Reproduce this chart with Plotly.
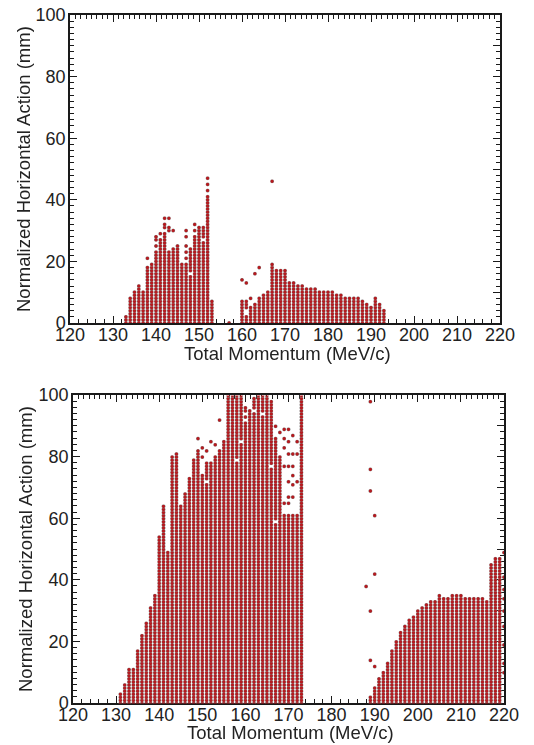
import numpy as np
import plotly.graph_objects as go

# ---------------- data ----------------
# Top panel: column momentum (MeV/c) and height of the filled column (mm)
top_p = [133, 134, 135, 136, 137, 138, 139, 140, 141, 142, 143, 144, 145, 146, 147, 148, 149, 150, 151, 152, 153,
         160, 161, 162, 163, 164, 165, 166, 167, 168, 169, 170, 171, 172, 173, 174, 175, 176, 177, 178, 179, 180,
         181, 182, 183, 184, 185, 186, 187, 188, 189, 190, 191, 192, 193]
top_h = [2, 8, 10, 12, 10, 18, 19, 23, 27, 29, 23, 24, 25, 19, 19, 24, 28, 31, 31, 41, 7,
         7, 7, 5, 6, 8, 9, 10, 19, 17, 17, 17, 13, 13, 12, 12, 11, 11, 11, 10, 10, 10,
         10, 9, 9, 8, 8, 8, 8, 7, 6, 5, 8, 6, 4]
# isolated points above the columns (top panel)
top_extra_p = [138, 140, 140, 140, 141, 142, 142, 142, 143, 143, 143, 144, 147, 147, 147, 147, 147, 149, 149,
               152, 152, 152, 157, 160, 161, 162, 163, 164, 167]
top_extra_a = [21, 25, 27, 28, 29, 31, 32, 34, 30, 31, 34, 30, 21, 23, 25, 28, 30, 30, 32,
               43, 45, 47, 0, 14, 13, 8, 16, 18, 46]
# gaps inside the columns (top panel)
top_hole_p = [148, 151, 161, 161]
top_hole_a = [16, 27, 3, 4]

# Bottom panel
bot_p = [131, 132, 133, 134, 135, 136, 137, 138, 139, 140, 141, 142, 143, 144, 145, 146, 147, 148, 149, 150,
         151, 152, 153, 154, 155, 156, 157, 158, 159, 160, 161, 162, 163, 164, 165, 166, 167, 168, 169, 170,
         171, 172, 173,
         189, 190, 191, 192, 193, 194, 195, 196, 197, 198, 199, 200, 201, 202, 203, 204, 205, 206, 207, 208,
         209, 210, 211, 212, 213, 214, 215, 216, 217, 218, 219]
bot_h = [3, 6, 11, 11, 17, 22, 26, 31, 35, 54, 64, 49, 80, 81, 64, 68, 73, 79, 82, 74,
         78, 78, 80, 82, 85, 100, 100, 100, 100, 97, 95, 99, 100, 100, 100, 98, 86, 80, 61, 61,
         61, 61, 100,
         2, 5, 8, 10, 13, 17, 20, 23, 25, 27, 28, 30, 31, 32, 33, 33, 35, 34, 34, 35,
         35, 35, 34, 34, 34, 34, 34, 33, 45, 47, 47]
bot_extra_p = [149, 150, 150, 151, 152, 153, 154, 167, 168, 169, 169, 169, 169, 169, 170, 170, 170, 170, 170,
               170, 170, 171, 171, 171, 171, 171, 171, 172, 172, 172,
               188, 189, 189, 189, 189, 189, 190, 190, 190,
               220, 220, 220, 220, 220, 220, 220, 220, 220]
bot_extra_a = [86, 80, 83, 82, 85, 84, 92, 90, 88, 65, 77, 83, 86, 89, 65, 67, 72, 77, 81,
               85, 89, 67, 71, 74, 77, 81, 87, 72, 81, 85,
               38, 14, 30, 69, 76, 98, 12, 42, 61,
               10, 13, 19, 25, 30, 34, 37, 41, 49]
bot_hole_p = [151, 158, 159, 160, 160, 160, 162, 164, 166, 167]
bot_hole_a = [72, 79, 85, 92, 94, 97, 95, 94, 77, 59]

x_ticks = [120, 130, 140, 150, 160, 170, 180, 190, 200, 210, 220]
y_ticks = [0, 20, 40, 60, 80, 100]

X_TITLE = "Total Momentum (MeV/c)"
Y_TITLE = "Normalized Horizontal Action (mm)"


def expand(ps, hs, ex_p, ex_a, hole_p, hole_a):
    holes = set(zip(hole_p, hole_a))
    xs, ys = [], []
    for p, h in zip(ps, hs):
        for a in range(0, h + 1):
            if (p, a) in holes:
                continue
            xs.append(p)
            ys.append(a)
    xs += list(ex_p)
    ys += list(ex_a)
    return np.array(xs, float), np.array(ys, float)


tx, ty = expand(top_p, top_h, top_extra_p, top_extra_a, top_hole_p, top_hole_a)
bx, by = expand(bot_p, bot_h, bot_extra_p, bot_extra_a, bot_hole_p, bot_hole_a)

W, H = 534, 745
FONT = "Liberation Sans, Arial, sans-serif"
LC = "#1a1a1a"
TC = "#222222"
RED = "#b51a1f"
TICK_SIZE = 18
TITLE_SIZE = 18.5

marker = dict(size=3.4, color=RED, line=dict(width=0.4, color="#8c8c8c"))

fig = go.Figure()
fig.add_trace(go.Scattergl(x=tx, y=ty, mode="markers", marker=marker, xaxis="x", yaxis="y",
                           showlegend=False, hoverinfo="skip"))
fig.add_trace(go.Scattergl(x=bx, y=by, mode="markers", marker=marker, xaxis="x2", yaxis="y2",
                           showlegend=False, hoverinfo="skip"))

# panel boxes in pixels: (left, right, top, bottom)
P1 = (70, 500, 15, 323)
P2 = (73, 504, 395, 703)


def dom_x(p):
    return [p[0] / W, p[1] / W]


def dom_y(p):
    return [1 - p[3] / H, 1 - p[2] / H]


def xax(p, anchor):
    return dict(domain=dom_x(p), anchor=anchor, range=[120, 220], tickmode="array", tickvals=x_ticks,
                ticks="inside", ticklen=7, tickwidth=1, tickcolor=LC, ticklabelstandoff=-5,
                minor=dict(dtick=2, tick0=120, ticks="inside", ticklen=4, tickwidth=1, tickcolor=LC),
                showline=True, linecolor=LC, linewidth=1.5, mirror=False, automargin=False,
                showgrid=False, zeroline=False, fixedrange=True,
                tickfont=dict(family=FONT, size=TICK_SIZE, color=TC))


def yax(p, anchor):
    return dict(domain=dom_y(p), anchor=anchor, range=[0, 100], tickmode="array", tickvals=y_ticks,
                ticks="inside", ticklen=7, tickwidth=1, tickcolor=LC, ticklabelstandoff=-1,
                minor=dict(dtick=2, tick0=0, ticks="inside", ticklen=4, tickwidth=1, tickcolor=LC),
                showline=True, linecolor=LC, linewidth=1.5, mirror=False, automargin=False,
                showgrid=False, zeroline=False, fixedrange=True,
                tickfont=dict(family=FONT, size=TICK_SIZE, color=TC))


def xtop(over, anchor):
    return dict(overlaying=over, anchor=anchor, side="top", range=[120, 220], showticklabels=False,
                dtick=10, tick0=120, ticks="inside", ticklen=7, tickwidth=1, tickcolor=LC,
                minor=dict(dtick=1.25, tick0=120, ticks="inside", ticklen=4, tickwidth=1, tickcolor=LC),
                showline=True, linecolor=LC, linewidth=1.5, showgrid=False, zeroline=False,
                automargin=False, fixedrange=True)


def yright(over, anchor):
    return dict(overlaying=over, anchor=anchor, side="right", range=[0, 100], showticklabels=False,
                dtick=10, tick0=0, ticks="inside", ticklen=7, tickwidth=1, tickcolor=LC,
                minor=dict(dtick=2, tick0=0, ticks="inside", ticklen=4, tickwidth=1, tickcolor=LC),
                showline=True, linecolor=LC, linewidth=1.5, showgrid=False, zeroline=False,
                automargin=False, fixedrange=True)


# invisible helper traces so the overlay axes get drawn
fig.add_trace(go.Scatter(x=[None], y=[None], xaxis="x3", yaxis="y3", showlegend=False, hoverinfo="skip"))
fig.add_trace(go.Scatter(x=[None], y=[None], xaxis="x4", yaxis="y4", showlegend=False, hoverinfo="skip"))

fig.update_layout(
    template="none",
    width=W, height=H, margin=dict(l=0, r=0, t=0, b=0, pad=0), autosize=False,
    paper_bgcolor="white", plot_bgcolor="white",
    xaxis=xax(P1, "y"), yaxis=yax(P1, "x"),
    xaxis2=xax(P2, "y2"), yaxis2=yax(P2, "x2"),
    xaxis3=xtop("x", "y3"), yaxis3=yright("y", "x3"),
    xaxis4=xtop("x2", "y4"), yaxis4=yright("y2", "x4"),
    font=dict(family=FONT, color=TC),
)

ann = []
for p, xc, xy, yx in [(P1, 287, 353, 23), (P2, 290, 732, 25)]:
    ann.append(dict(text=X_TITLE, x=xc / W, y=1 - xy / H, xref="paper", yref="paper", showarrow=False,
                    xanchor="center", yanchor="middle", font=dict(family=FONT, size=TITLE_SIZE, color=TC)))
    ann.append(dict(text=Y_TITLE, x=yx / W, y=1 - ((p[2] + p[3]) / 2) / H, xref="paper", yref="paper",
                    showarrow=False, textangle=-90, xanchor="center", yanchor="middle",
                    font=dict(family=FONT, size=TITLE_SIZE, color=TC)))
fig.update_layout(annotations=ann)

fig.write_html("out.html")
